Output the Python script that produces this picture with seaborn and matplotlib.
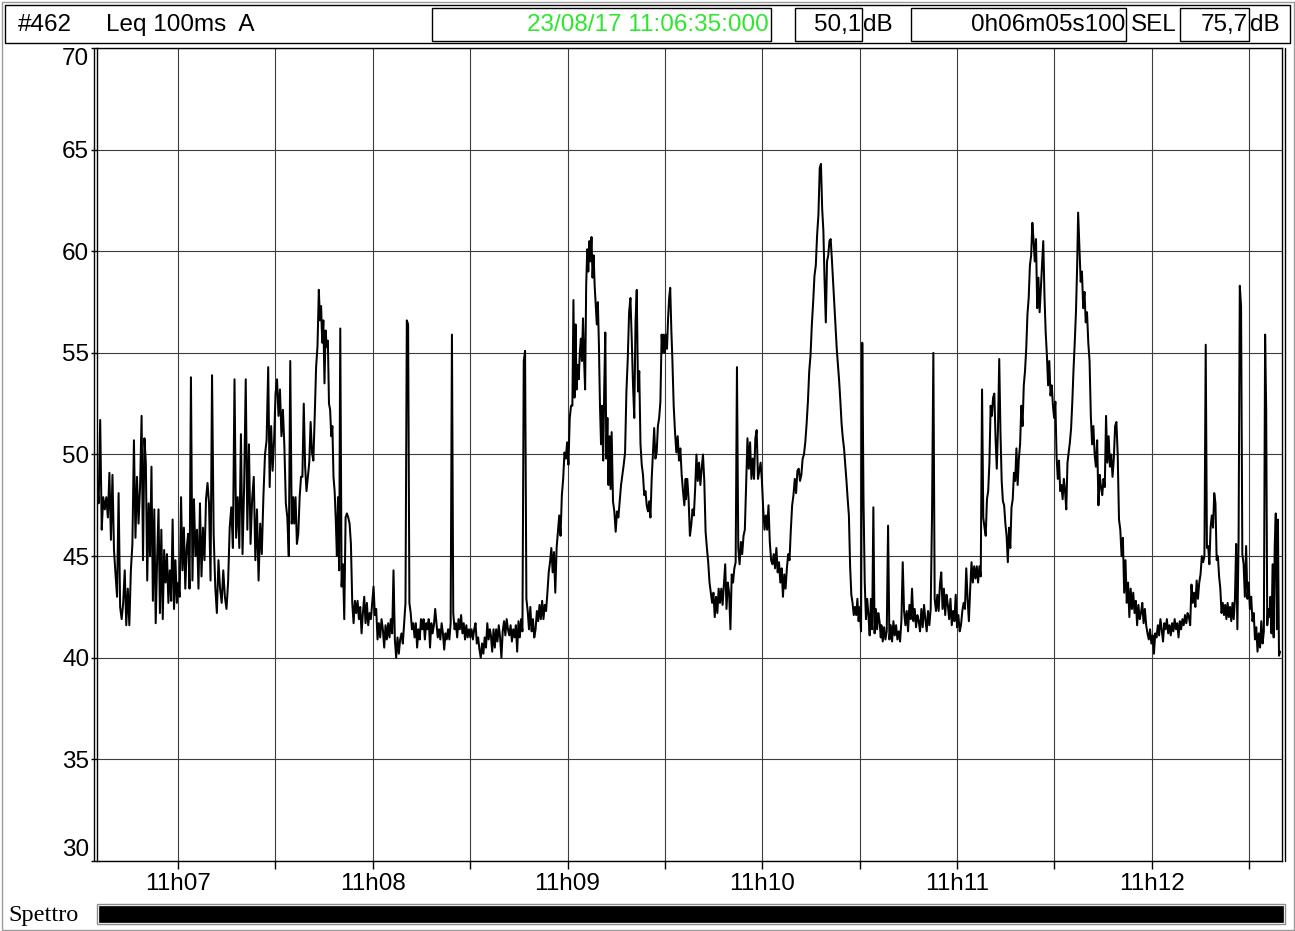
import numpy as np
import pandas as pd
import seaborn as sns
import matplotlib
matplotlib.use("Agg")
import matplotlib.pyplot as plt
from matplotlib import font_manager
from matplotlib.patches import Rectangle

# Leq 100ms A, one list per stretch of about a minute
leq_a = [48.6, 47.6, 51.7, 46.3, 47.9, 47.3, 47.9, 46.9, 49.1, 45.8,
         49.0, 45.3, 44.1, 43.0, 48.1, 42.5, 41.9, 42.7, 44.3, 41.6,
         43.4, 41.6, 44.3, 45.6, 50.7, 45.9, 48.9, 46.6, 48.4, 51.9,
         44.8, 50.8, 49.6, 43.8, 47.6, 45.0, 49.4, 42.8, 47.3, 41.7,
         44.8, 47.3, 42.2, 46.3, 41.9, 45.3, 43.7, 45.1, 42.7, 44.3,
         42.8, 46.8, 42.4, 44.8, 42.7, 43.7, 43.0, 47.9, 44.3, 46.4,
         43.4, 45.4, 46.1, 43.4, 53.8, 43.8, 47.8, 45.0, 46.3, 43.4,
         47.6, 44.0, 46.4, 44.8, 47.8, 48.6, 47.6, 43.8, 53.9, 46.1,
         43.5, 42.2, 44.8, 43.4, 42.7, 44.3, 43.0, 42.4, 43.7, 46.4,
         47.4, 45.4, 53.7, 45.9, 47.9, 45.4, 51.0, 45.1, 48.4, 53.7,
         46.3, 50.5, 45.6, 47.8, 48.9, 44.8, 47.3, 43.8, 46.6, 45.1,
         47.9, 50.0, 50.7, 54.3, 48.4, 51.4, 49.2, 50.7, 53.0, 53.7,
         51.9, 53.2, 50.9, 52.2, 50.4, 47.6, 46.9, 45.0, 54.6, 46.6,
         47.9]
leq_b = [46.6, 47.9, 45.6, 46.1, 47.9, 48.9, 48.9, 52.5, 49.4, 48.2,
         48.9, 49.6, 51.6, 50.1, 49.7, 51.9, 54.3, 55.3, 58.1, 56.6,
         57.3, 55.5, 56.6, 53.5, 56.1, 55.3, 55.6, 52.5, 52.2, 50.9,
         51.4, 48.9, 48.2, 46.8, 45.0, 47.9, 44.3, 56.2, 43.5, 44.6,
         41.9, 46.9, 47.1, 46.9, 46.6, 45.6, 42.7, 41.7, 42.8, 42.2,
         42.8, 41.9, 42.5, 41.2, 42.2, 43.0, 41.7, 42.7, 41.6, 42.2,
         41.9, 42.7, 43.5, 42.1, 42.4, 40.9, 41.7, 41.0, 41.9, 41.4,
         40.5, 41.6, 40.9, 41.7, 41.0, 41.9, 41.2, 44.3, 40.9, 40.0,
         41.0, 40.2, 40.9, 41.2, 40.7, 41.7, 42.7, 56.6, 56.4, 42.7,
         42.2, 41.4, 41.7, 41.0, 41.7, 40.5, 41.4, 40.9, 41.9, 41.4,
         41.9, 40.9, 41.7, 41.4, 41.9, 40.5, 41.7, 41.2, 41.6, 42.4,
         41.7, 41.0, 41.4, 40.9, 41.7, 41.2, 40.4, 41.2, 40.9, 41.4,
         40.9, 41.7, 55.9, 42.2, 41.4, 41.7, 41.0, 41.9, 41.4, 42.1,
         41.2, 41.7, 40.9, 41.6, 41.0, 41.4, 41.0, 41.4, 40.9, 41.4,
         41.7, 40.7, 41.0, 40.4, 40.0, 40.7, 40.2, 41.0, 40.5, 41.7,
         40.9, 41.4]
leq_c = [41.1, 40.3, 41.4, 40.5, 41.4, 40.8, 41.6, 41.0, 40.0, 41.3,
         41.8, 41.1, 41.9, 41.4, 41.1, 41.6, 40.8, 41.4, 41.0, 41.6,
         40.3, 41.8, 41.0, 41.9, 41.3, 54.6, 55.1, 42.9, 42.3, 41.4,
         42.5, 41.3, 41.9, 41.0, 41.4, 42.3, 41.8, 42.6, 41.9, 42.8,
         41.9, 42.6, 42.3, 43.2, 44.2, 44.7, 45.4, 44.2, 45.2, 43.2,
         45.4, 46.2, 47.0, 46.0, 48.0, 48.8, 50.1, 49.8, 50.6, 49.5,
         51.8, 52.4, 52.4, 57.6, 52.8, 56.4, 53.2, 54.4, 53.7, 55.0,
         55.7, 54.6, 56.7, 54.7, 53.2, 58.3, 60.1, 59.0, 60.5, 59.5,
         60.7, 58.7, 59.8, 58.3, 57.3, 56.4, 57.5, 55.4, 52.4, 50.5,
         52.4, 49.7, 53.2, 56.0, 49.8, 51.8, 48.5, 50.9, 48.3, 51.1,
         47.7, 47.2, 46.2, 47.2, 46.9, 47.7, 48.5, 49.0, 49.5, 50.1,
         53.1, 54.7, 57.0, 57.7, 55.6, 53.4, 51.8, 56.5, 58.1, 53.1,
         54.1, 50.5, 49.5, 49.0, 48.0, 48.2, 47.5, 47.2, 47.7, 46.9,
         48.8, 50.1, 51.3, 49.8, 50.1, 51.4, 51.8, 52.6, 55.9, 55.0,
         55.9, 55.0, 55.9, 55.2, 56.7, 57.7, 58.2, 56.2, 54.7, 52.4,
         51.1, 50.1, 50.9, 49.7, 50.3, 49.0, 48.2, 47.5, 48.8]
leq_d = [47.8, 48.8, 47.8, 46.0, 46.5, 47.3, 47.0, 48.3, 50.0, 48.7,
         49.6, 48.5, 49.3, 50.0, 48.7, 46.2, 45.4, 44.7, 43.7, 43.2,
         42.7, 43.2, 42.0, 43.0, 42.2, 43.4, 42.7, 43.4, 42.6, 43.6,
         44.6, 42.4, 43.7, 43.2, 41.4, 44.1, 43.7, 44.4, 44.7, 54.3,
         45.4, 44.6, 45.7, 45.1, 46.0, 46.3, 48.5, 50.8, 49.3, 50.6,
         48.8, 49.8, 48.8, 50.8, 51.2, 48.8, 49.2, 49.6, 48.7, 47.3,
         46.3, 47.0, 46.3, 47.5, 45.7, 44.8, 44.6, 45.1, 44.4, 45.4,
         44.2, 44.7, 43.7, 44.4, 43.0, 44.1, 43.4, 44.4, 45.1, 44.8,
         46.3, 47.5, 48.0, 48.8, 48.1, 49.2, 49.3, 48.7, 49.0, 49.8,
         50.0, 50.6, 51.5, 52.6, 54.1, 54.9, 56.4, 57.5, 58.8, 59.3,
         60.8, 61.8, 64.1, 64.3, 62.1, 61.0, 58.5, 56.5, 59.5, 59.8,
         60.5, 60.6, 59.6, 58.5, 57.4, 56.4, 55.2, 54.4, 53.6, 52.6,
         51.5, 50.8, 50.3, 49.5, 48.7, 47.8, 47.0, 44.5, 43.1, 42.7,
         42.1, 42.5, 42.1, 42.9, 41.8, 42.5, 41.3, 55.5, 47.8, 43.7,
         41.9, 42.9, 42.1, 41.1, 42.9, 41.4, 47.4, 41.2, 42.4, 41.4,
         42.2, 41.8, 41.0]
leq_e = [41.6, 40.8, 41.5, 40.9, 41.3, 46.5, 40.9, 41.6, 40.8, 41.8,
         41.1, 41.6, 40.9, 41.3, 40.8, 41.8, 44.7, 42.3, 41.6, 42.3,
         41.3, 42.6, 41.9, 43.4, 41.8, 42.4, 41.5, 42.1, 41.8, 41.3,
         42.4, 41.5, 42.6, 41.9, 41.3, 42.3, 41.6, 42.4, 47.0, 55.0,
         42.9, 42.3, 43.1, 42.3, 43.6, 44.2, 42.4, 43.4, 42.1, 43.1,
         42.6, 41.9, 42.9, 41.6, 42.3, 41.8, 43.1, 41.5, 42.1, 41.3,
         41.6, 42.3, 42.7, 42.4, 44.4, 42.9, 41.8, 43.4, 44.7, 43.7,
         44.5, 43.9, 44.5, 43.7, 44.5, 44.0, 53.2, 46.9, 46.4, 46.0,
         47.8, 48.2, 49.6, 52.4, 51.9, 52.8, 53.0, 50.8, 49.3, 51.3,
         54.7, 51.1, 48.7, 47.7, 47.5, 46.6, 46.0, 44.7, 46.4, 45.4,
         47.4, 47.8, 49.1, 48.7, 50.3, 48.5, 49.8, 50.5, 52.4, 51.4,
         53.4, 54.1, 55.2, 56.9, 57.7, 59.3, 59.8, 61.4, 60.5, 59.5,
         60.6, 57.2, 58.7, 57.0, 58.2, 59.3, 60.5, 57.8, 56.0, 54.9,
         53.4, 54.6, 52.9, 53.4, 52.4, 51.8, 52.6, 49.9, 48.8, 49.7,
         48.2, 48.5, 47.8, 48.8, 48.2, 47.3, 49.6, 50.1, 50.6, 51.3,
         52.6, 54.2, 55.5, 57.0, 59.3]
leq_f = [61.9, 60.2, 58.5, 59.0, 57.2, 58.0, 56.5, 57.0, 55.5, 54.6,
         51.9, 50.5, 51.4, 50.0, 49.4, 50.7, 47.5, 49.0, 48.4, 48.0,
         48.8, 48.4, 51.9, 49.6, 50.9, 49.4, 50.0, 48.9, 49.8, 51.4,
         51.6, 50.0, 46.8, 46.3, 45.0, 45.9, 43.2, 44.8, 42.7, 43.7,
         42.0, 43.4, 42.4, 43.2, 42.2, 42.8, 41.6, 42.6, 41.9, 42.2,
         42.7, 41.7, 42.4, 41.6, 41.2, 40.9, 41.4, 40.7, 41.1, 40.2,
         41.2, 41.0, 41.6, 41.1, 41.9, 41.4, 40.8, 41.7, 41.4, 41.9,
         41.2, 41.6, 41.1, 41.7, 41.3, 41.9, 41.4, 41.7, 41.0, 41.8,
         41.4, 41.9, 41.6, 42.1, 41.7, 42.2, 42.0, 41.6, 43.6, 42.7,
         43.2, 42.5, 43.8, 42.9, 43.7, 44.1, 45.0, 44.7, 45.0, 55.4,
         45.4, 45.5, 44.6, 46.4, 47.0, 46.4, 48.1, 47.6, 44.8, 45.0,
         44.0, 43.4, 42.2, 42.7, 42.1, 42.6, 41.9, 42.7, 42.0, 42.5,
         41.8, 42.7, 41.9, 42.9, 45.6, 41.4, 45.8, 58.3, 57.3, 45.1,
         44.6, 43.0, 45.5, 42.9, 43.7, 42.4, 43.0, 41.8, 42.2, 40.9,
         41.5, 40.3, 41.2, 40.5, 41.8, 40.7, 41.3, 55.9, 52.2, 41.6,
         42.4, 42.0, 43.0, 41.2, 44.6, 41.0, 45.5, 47.1, 41.4, 46.8,
         40.1, 40.3]

# seconds after 11:06:35 at which some samples of each list sit
knots_a, knot_t_a = [0, 29, 64, 78, 113, 130], [0.1, 13.8, 29.0, 35.5, 52.8, 60.5]
knots_b, knot_t_b = [0, 18, 37, 87, 122, 151], [60.8, 68.4, 75.0, 95.5, 109.4, 121.1]
knots_c, knot_t_c = [0, 62, 99, 114, 138, 148, 158], [121.4, 146.5, 158.6, 164.8, 174.0, 177.3, 181.4]
knots_d, knot_t_d = [0, 39, 102, 137, 152], [181.5, 197.2, 222.7, 235.8, 241.5]
knots_e, knot_t_e = [0, 39, 76, 117, 154], [241.7, 257.7, 272.7, 288.2, 302.0]
knots_f, knot_t_f = [0, 22, 99, 127, 147, 161], [302.3, 310.9, 341.6, 352.1, 359.9, 364.5]

minute_labels = ["11h07", "11h08", "11h09", "11h10", "11h11", "11h12"]
y_ticks = [30, 35, 40, 45, 50, 55, 60, 65, 70]
duration = 365.1


def stamp(values, knots, knot_t):
    return np.interp(np.arange(len(values)), knots, knot_t)


parts = [(leq_a, knots_a, knot_t_a), (leq_b, knots_b, knot_t_b),
         (leq_c, knots_c, knot_t_c), (leq_d, knots_d, knot_t_d),
         (leq_e, knots_e, knot_t_e), (leq_f, knots_f, knot_t_f)]
df = pd.DataFrame({
    "t": np.concatenate([stamp(v, k, kt) for v, k, kt in parts]),
    "leq": np.concatenate([v for v, _, _ in parts]),
})

sns.set_theme(style="white")
installed = {f.name for f in font_manager.fontManager.ttflist}
if "Liberation Sans Narrow" in installed:
    sans, fs = ["Liberation Sans Narrow", "DejaVu Sans"], 19.5
else:
    sans, fs = ["Liberation Sans", "DejaVu Sans"], 17.5
plt.rcParams["font.family"] = sans

W, H = 1295, 931
fig = plt.figure(figsize=(W / 100, H / 100), dpi=100)
fig.patch.set_facecolor("white")
x0, x1, y0, y1 = 96.8, 1282, 48, 861
ax = fig.add_axes([x0 / W, 1 - y1 / H, (x1 - x0) / W, (y1 - y0) / H])

sns.lineplot(data=df, x="t", y="leq", color="black", linewidth=1.45,
             estimator=None, sort=False, ax=ax)
ax.set_xlim(0, duration)
ax.set_ylim(30, 70)
ax.set_xlabel("")
ax.set_ylabel("")

xt = np.arange(25, duration, 30)
ax.set_xticks(xt)
ax.set_xticklabels([minute_labels[i // 2] if i % 2 == 0 else "" for i in range(len(xt))])
ax.set_yticks(y_ticks)
ax.set_yticklabels([str(v) for v in y_ticks])
ax.grid(True, color="#3c3c3c", linewidth=0.8)
ax.set_axisbelow(True)
ax.tick_params(axis="x", direction="out", length=6, width=1, color="black",
               pad=3, labelsize=fs, labelcolor="black", bottom=True)
ax.tick_params(axis="y", direction="out", length=4, width=1, color="black",
               pad=1.5, labelsize=fs, labelcolor="black", left=True)
ylabs = ax.get_yticklabels()
ylabs[0].set_va("bottom")
ylabs[-1].set_va("top")
for s in ax.spines.values():
    s.set_color("black")
    s.set_linewidth(1.0)

# overlay in pixel units for the header, frames and the spectrum bar
ov = fig.add_axes([0, 0, 1, 1], zorder=5)
ov.set_xlim(0, W)
ov.set_ylim(H, 0)
ov.axis("off")


def box(xa, ya, xb, yb, ec="black", fc="none", lw=1.0):
    ov.add_patch(Rectangle((xa, ya), xb - xa, yb - ya, ec=ec, fc=fc, lw=lw))


box(1.5, 1.5, 1293.5, 929.5, ec="#9a9a9a")
box(5, 5, 1290, 43)
# double lines at the plot sides
ov.plot([94, 94], [y0, y1], color="black", lw=1.0)
ov.plot([1285, 1285], [y0, y1], color="black", lw=1.0)

ty = 25
ov.text(18, ty, "#462", fontsize=fs, va="center", ha="left", color="black")
ov.text(106, ty, "Leq 100ms  A", fontsize=fs, va="center", ha="left", color="black")
box(432, 8, 771, 41)
ov.text(769, ty, "23/08/17 11:06:35:000", fontsize=fs, va="center", ha="right", color="#2ee62e")
box(795, 8, 862, 41)
ov.text(861, ty, "50,1", fontsize=fs, va="center", ha="right", color="black")
ov.text(863, ty, "dB", fontsize=fs, va="center", ha="left", color="black")
box(911, 8, 1126, 41)
ov.text(1125, ty, "0h06m05s100", fontsize=fs, va="center", ha="right", color="black")
ov.text(1131, ty, "SEL", fontsize=fs, va="center", ha="left", color="black")
box(1180, 8, 1249, 41)
ov.text(1248, ty, "75,7", fontsize=fs, va="center", ha="right", color="black")
ov.text(1250, ty, "dB", fontsize=fs, va="center", ha="left", color="black")

ov.text(8, 915, "Spettro", fontsize=17.5, va="center", ha="left", color="black",
        family=["Liberation Serif", "DejaVu Serif"])
box(97, 904, 1285, 924, ec="#8c8c8c", lw=1.0)
box(99, 906, 1283, 922, ec="black", fc="black", lw=0.5)

fig.savefig("out.png", dpi=100, facecolor="white")
